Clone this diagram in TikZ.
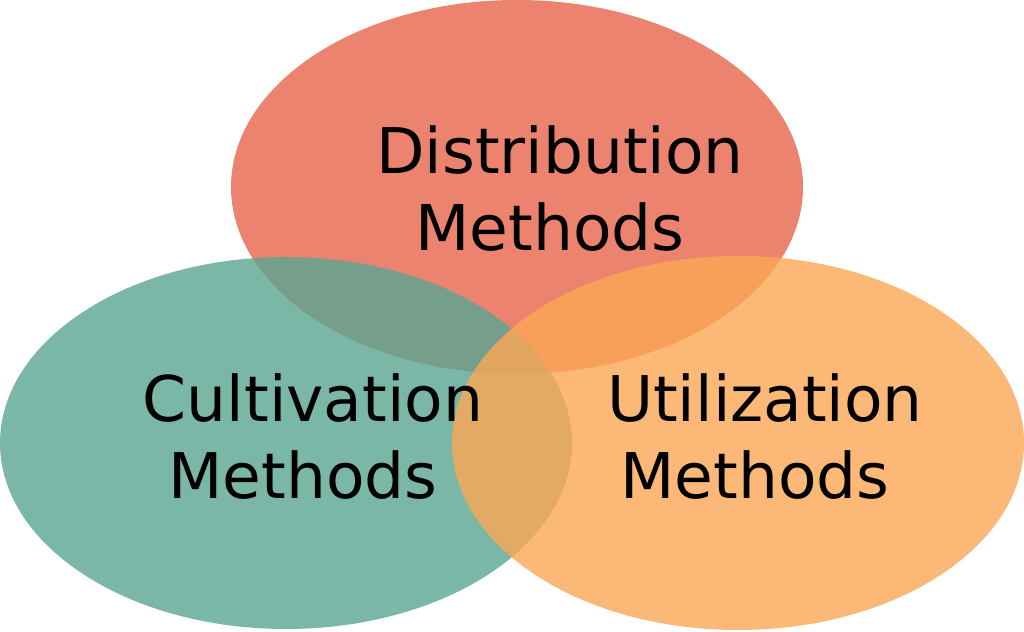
\documentclass[tikz,border=0pt]{standalone}
\usepackage{fontspec}
\setmainfont{DejaVu Sans}
\usepackage{tikz}
\usetikzlibrary{positioning}

\definecolor{distred}{RGB}{231,100,76}
\definecolor{culteal}{RGB}{89,166,146}
\definecolor{utilorange}{RGB}{252,167,85}

\begin{document}
\begin{tikzpicture}[x=1pt, y=1pt,
    blob/.style={fill opacity=0.8},
    label/.style={inner sep=0pt, anchor=south, align=center, font=\fontsize{63}{77}\selectfont}]
    % canvas 1024 x 631
    \useasboundingbox (0,0) rectangle (1024,631);
    \fill[white] (0,0) rectangle (1024,631);
    \def\rx{286}
    \def\ry{187}

    % Three sets, drawn top, left, right
    \fill[blob, distred] (517,444) ellipse ({\rx} and {\ry});
    \fill[blob, culteal] (286,188) ellipse ({\rx} and {186});
    \fill[blob, utilorange] (738,188) ellipse ({\rx} and {\ry});

    % Labels
    \node[label] (dist) at (560,379) {Distribution\\Methods\hspace*{.32em}};
    \node[label] (cult) at (313,131) {Cultivation\\Methods\hspace*{.32em}};
    \node[label] (util) at (765,131) {Utilization\\Methods\hspace*{.32em}};
\end{tikzpicture}
\end{document}
